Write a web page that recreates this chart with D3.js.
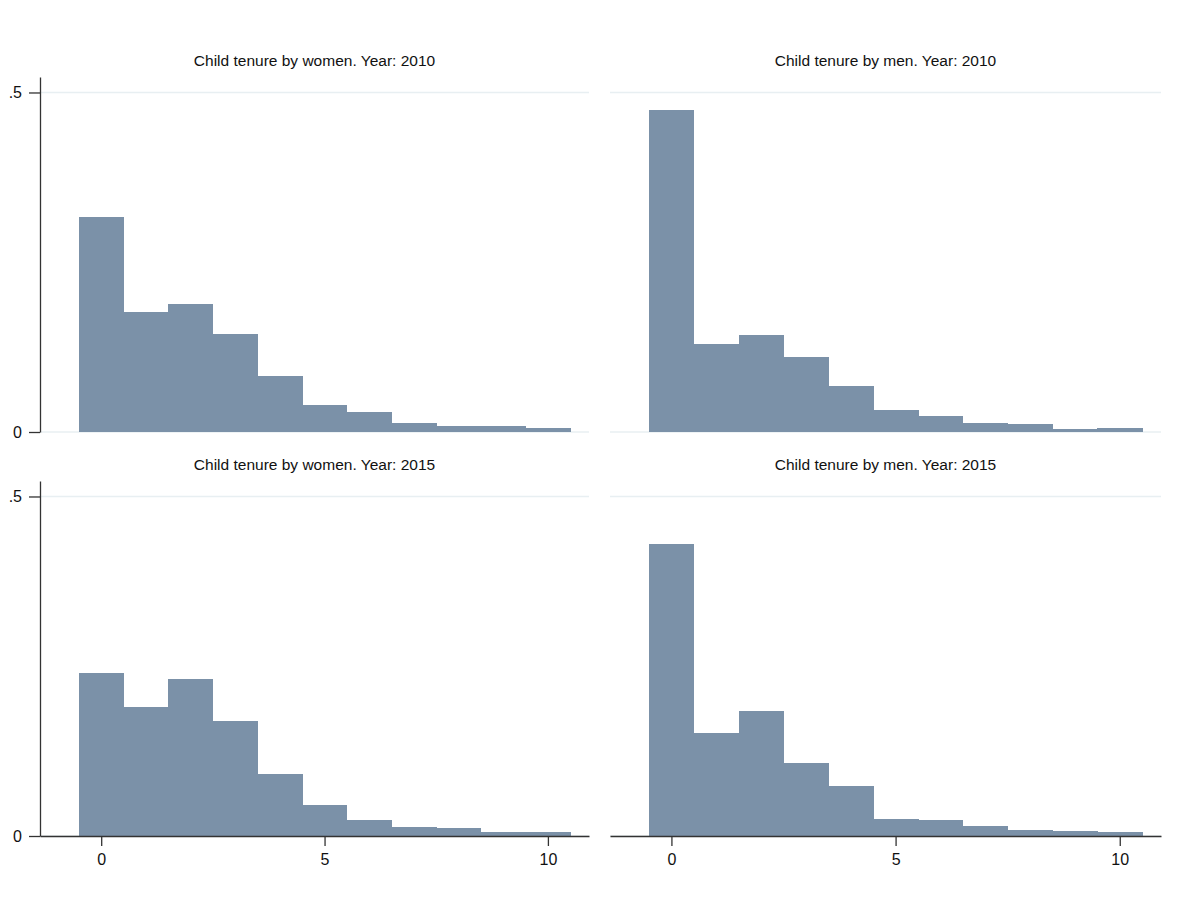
<!DOCTYPE html>
<html>
<head>
<meta charset="utf-8">
<script src="https://cdn.jsdelivr.net/npm/d3@7"></script>
<style>
  html, body { margin: 0; padding: 0; background: #ffffff; }
  svg { display: block; font-family: "Liberation Sans", Arial, sans-serif; }
</style>
</head>
<body>
<svg id="chart" width="1193" height="905"></svg>
<script>
// Histogram bins (years of tenure) and density per bin
const bins = [0, 1, 2, 3, 4, 5, 6, 7, 8, 9, 10];
const women2010 = [0.3165, 0.1766, 0.1889, 0.1443, 0.0819, 0.0404, 0.0300, 0.0138, 0.0088, 0.0088, 0.0065];
const men2010   = [0.4735, 0.1300, 0.1424, 0.1100, 0.0673, 0.0318, 0.0240, 0.0138, 0.0124, 0.0050, 0.0065];
const women2015 = [0.2400, 0.1905, 0.2310, 0.1694, 0.0916, 0.0450, 0.0240, 0.0132, 0.0113, 0.0064, 0.0064];
const men2015   = [0.4295, 0.1518, 0.1836, 0.1077, 0.0735, 0.0255, 0.0240, 0.0152, 0.0083, 0.0069, 0.0059];

const panelTitles = [
  "Child tenure by women. Year: 2010",
  "Child tenure by men. Year: 2010",
  "Child tenure by women. Year: 2015",
  "Child tenure by men. Year: 2015"
];
const yTickValues = [0, 0.5];
const yTickLabels = ["0", ".5"];
const xTickValues = [0, 5, 10];

const svg = d3.select("#chart");

const barFill = "#7b91a8";
const gridColor = "#e8eff2";
const axisColor = "#333333";

// layout of the 2x2 grid
const cols = [{ x0: 40, x1: 589 }, { x0: 610, x1: 1161 }];
const rows = [{ top: 77, base: 432, titleY: 66 }, { top: 481, base: 836, titleY: 470 }];
const xDomain = [-1.37, 10.92];
const yDomain = [0, 0.5228];

const panels = [
  { values: women2010, title: panelTitles[0], col: 0, row: 0 },
  { values: men2010,   title: panelTitles[1], col: 1, row: 0 },
  { values: women2015, title: panelTitles[2], col: 0, row: 1 },
  { values: men2015,   title: panelTitles[3], col: 1, row: 1 }
];

panels.forEach(p => {
  const c = cols[p.col], r = rows[p.row];
  const x = d3.scaleLinear().domain(xDomain).range([c.x0, c.x1]);
  const y = d3.scaleLinear().domain(yDomain).range([r.base, r.top]);
  const g = svg.append("g");

  // horizontal grid lines
  g.selectAll("line.grid")
    .data(yTickValues)
    .enter().append("line")
    .attr("class", "grid")
    .attr("x1", c.x0).attr("x2", c.x1)
    .attr("y1", d => y(d)).attr("y2", d => y(d))
    .attr("stroke", gridColor)
    .attr("stroke-width", 1.6);

  // bars
  g.selectAll("rect.bar")
    .data(bins.map((b, i) => ({ b, v: p.values[i] })))
    .enter().append("rect")
    .attr("class", "bar")
    .attr("x", d => x(d.b - 0.5))
    .attr("width", d => x(d.b + 0.5) - x(d.b - 0.5) + 0.5)
    .attr("y", d => y(d.v))
    .attr("height", d => y(0) - y(d.v))
    .attr("fill", barFill)
    .attr("shape-rendering", "crispEdges");

  // title
  svg.append("text")
    .attr("x", (c.x0 + c.x1) / 2)
    .attr("y", r.titleY)
    .attr("text-anchor", "middle")
    .attr("font-size", "15.5px")
    .attr("fill", "#111")
    .text(p.title);

  // y axis on left column
  if (p.col === 0) {
    const ya = d3.axisLeft(y)
      .tickValues(yTickValues)
      .tickFormat((d, i) => yTickLabels[i])
      .tickSizeInner(11)
      .tickSizeOuter(0)
      .tickPadding(7);
    const yg = svg.append("g")
      .attr("transform", `translate(${c.x0},0)`)
      .call(ya);
    yg.select(".domain").attr("stroke", axisColor).attr("stroke-width", 1.3);
    yg.selectAll(".tick line").attr("stroke", axisColor).attr("stroke-width", 1.3);
    yg.selectAll(".tick text")
      .attr("font-size", "16px")
      .attr("font-family", "'Liberation Sans', Arial, sans-serif")
      .attr("fill", "#111");
  }

  // x axis on bottom row
  if (p.row === 1) {
    const xa = d3.axisBottom(x)
      .tickValues(xTickValues)
      .tickFormat(d3.format("d"))
      .tickSizeInner(10)
      .tickSizeOuter(0)
      .tickPadding(8);
    const xg = svg.append("g")
      .attr("transform", `translate(0,${r.base})`)
      .call(xa);
    xg.select(".domain").attr("stroke", axisColor).attr("stroke-width", 1.3);
    xg.selectAll(".tick line").attr("stroke", axisColor).attr("stroke-width", 1.3);
    xg.selectAll(".tick text")
      .attr("font-size", "16px")
      .attr("font-family", "'Liberation Sans', Arial, sans-serif")
      .attr("fill", "#111");
  }
});
</script>
</body>
</html>
